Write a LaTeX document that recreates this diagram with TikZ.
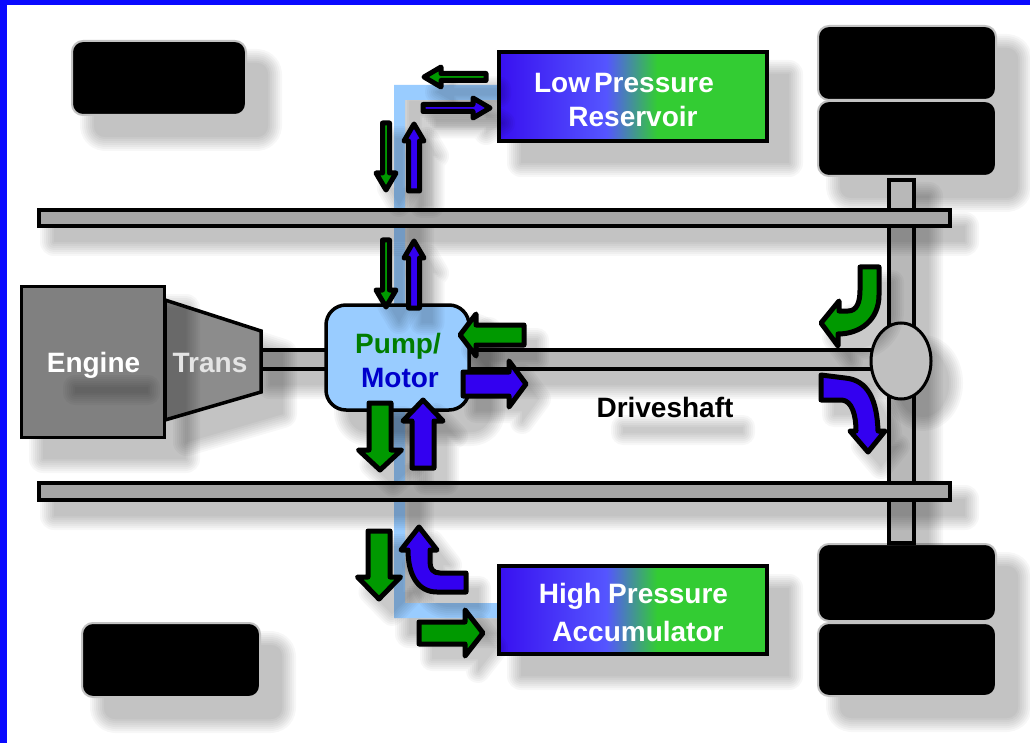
\documentclass[tikz,border=0pt]{standalone}
\usepackage{fontspec}
\setmainfont{Liberation Sans}
\definecolor{framebl}{RGB}{10,10,255}
\definecolor{pipec}{RGB}{153,204,255}
\definecolor{arrgreen}{RGB}{0,153,0}
\definecolor{arrblue}{RGB}{51,0,240}
\definecolor{boxbl}{RGB}{56,16,240}
\definecolor{boxbm}{RGB}{85,85,255}
\definecolor{boxgr}{RGB}{51,204,51}
\pgfdeclarehorizontalshading{boxshade}{100bp}{color(0bp)=(boxbl); color(25bp)=(boxbl); color(45bp)=(boxbm); color(54.5bp)=(boxgr); color(75bp)=(boxgr); color(100bp)=(boxgr)}
\tikzset{
  shadowlayer/.style={fill=black,draw=black,line join=round},
  wheelbox/.style={fill=black,draw={rgb,255:red,195;green,195;blue,195},line width=2pt,rounded corners=11pt},
  railbox/.style={fill={rgb,255:red,166;green,166;blue,166},draw=black,line width=3.5pt},
  shaftbox/.style={fill={rgb,255:red,184;green,184;blue,184},draw=black,line width=3.5pt},
  blockout/.style={draw=black,line width=5pt,line join=round},
  pressurebox/.style={draw=black,line width=4.5pt,shading=boxshade},
  lbl/.style={font=\fontsize{28}{30}\selectfont\bfseries,inner sep=0pt,anchor=base}
}
\newcommand{\softshadow}[1]{\foreach \w in {0.1,4,8,12,16,20,24,28}{\begin{scope}[transparency group,opacity=.032]\path[shift={(22,22)},shadowlayer,line width=\w pt] #1;\end{scope}}}
\newcommand{\midshadow}[1]{\foreach \w in {0.1,4,8,12,16,20,24,28}{\begin{scope}[transparency group,opacity=.032]\path[shift={(15,16)},shadowlayer,line width=\w pt] #1;\end{scope}}}
\newcommand{\thinshadow}[1]{\foreach \w in {0.1,4,8,12,16,20,24}{\begin{scope}[transparency group,opacity=.03]\path[shift={(13,15)},shadowlayer,line width=\w pt] #1;\end{scope}}}
\newcommand{\blockarrow}[8]{%
  \def\arrowoutline{(0,0)--(-#7,-#6/2)--(-#7,-#5/2)--(-#4,-#5/2)--(-#4,#5/2)--(-#7,#5/2)--(-#7,#6/2)--cycle}%
  \foreach \w in {0.1,4,8,12,16,20,24}{%
    \begin{scope}[transparency group,opacity=.03]
    \begin{scope}[shift={(13,15)}]
      \path[shadowlayer,line width=\w pt,shift={(#1,#2)},rotate=#3] \arrowoutline;
    \end{scope}\end{scope}}%
  \draw[blockout,fill=#8,shift={(#1,#2)},rotate=#3] \arrowoutline;
}
\begin{document}
\begin{tikzpicture}[x=1pt,y=-1pt]
\useasboundingbox (0,0) rectangle (1030,743);
\fill[white] (0,0) rectangle (1030,743);
\fill[framebl] (0,0) rectangle (7,743);
\fill[framebl] (0,0) rectangle (1030,5);
% pipe
\midshadow{(394,85)--(497,85)--(497,100)--(405,100)--(405,603)--(497,603)--(497,618)--(394,618)--cycle}
\fill[pipec] (394,85)--(497,85)--(497,100)--(405,100)--(405,603)--(497,603)--(497,618)--(394,618)--cycle;
% wheels
\softshadow{[rounded corners=11pt] (72,41) rectangle (246,115)}
\draw[wheelbox] (72,41) rectangle (246,115);
\softshadow{[rounded corners=11pt] (82,623) rectangle (260,697)}
\draw[wheelbox] (82,623) rectangle (260,697);
\softshadow{[rounded corners=11pt] (818,26) rectangle (996,176)}
\draw[wheelbox] (818,26) rectangle (996,100);
\draw[wheelbox] (818,101) rectangle (996,176);
\softshadow{[rounded corners=11pt] (818,544) rectangle (996,696)}
\draw[wheelbox] (818,544) rectangle (996,621);
\draw[wheelbox] (818,623) rectangle (996,696);
% axle
\midshadow{(889,180) rectangle (914,543)}
\draw[shaftbox] (889,180) rectangle (914,543);
% rails
\midshadow{(39,210) rectangle (950,226)}
\draw[railbox] (39,210) rectangle (950,226);
\midshadow{(39,483) rectangle (950,500)}
\draw[railbox] (39,483) rectangle (950,500);
% shafts
\midshadow{(255,350) rectangle (330,369)}
\draw[shaftbox] (255,350) rectangle (330,369);
\midshadow{(465,350) rectangle (875,369)}
\draw[shaftbox] (465,350) rectangle (875,369);
\softshadow{(901,361) ellipse [x radius=26,y radius=34]}
\draw[fill={rgb,255:red,192;green,192;blue,192},draw=black,line width=3pt] (901,361) ellipse [x radius=30,y radius=38];
% engine and trans
\softshadow{(165,300)--(261,331)--(261,392)--(165,420)--cycle}
\draw[line width=3.5pt,line join=miter,fill={rgb,255:red,140;green,140;blue,140}] (165,300)--(261,331)--(261,392)--(165,420)--cycle;
\softshadow{(21,286) rectangle (164,437)}
\draw[line width=3pt,fill={rgb,255:red,128;green,128;blue,128}] (21,286) rectangle (164,437);
\thinshadow{(62,372) rectangle (135,378)}
% pump
\softshadow{[rounded corners=20pt] (326,305) rectangle (469,410)}
\draw[line width=3.5pt,rounded corners=20pt,fill=pipec] (326,305) rectangle (469,410);
% pressure boxes
\softshadow{(499,52) rectangle (767,141)}
\draw[pressurebox] (499,52) rectangle (767,141);
\softshadow{(499,566) rectangle (767,654)}
\draw[pressurebox] (499,566) rectangle (767,654);
% thin arrows
\blockarrow{424}{77}{180}{62}{7}{20}{17}{arrgreen}
\blockarrow{490}{108}{0}{67}{7}{20}{17}{arrblue}
\blockarrow{386}{190}{270}{67}{7}{20}{17}{arrgreen}
\blockarrow{414}{124}{90}{67}{11}{20}{17}{arrblue}
\blockarrow{386}{307}{270}{67}{7}{20}{17}{arrgreen}
\blockarrow{414}{241}{90}{67}{11}{20}{17}{arrblue}
% thick arrows
\blockarrow{460}{335}{180}{64}{20}{42}{16}{arrgreen}
\blockarrow{526}{384}{0}{63}{24}{46}{17}{arrblue}
\blockarrow{380}{470}{270}{67}{22}{43}{20}{arrgreen}
\blockarrow{423}{400}{90}{68}{22}{40}{21}{arrblue}
\blockarrow{379}{599}{270}{68}{22}{43}{22}{arrgreen}
\blockarrow{483}{633}{0}{64}{22}{46}{18}{arrgreen}
% curved arrows
\thinshadow{(419,527)--(437,550)--(430,550)--(430,562) .. controls (430,569) and (433,573) .. (440,573)--(466,573)--(466,592)--(437,592) .. controls (418,592) and (408,575) .. (408,550)--(401,550)--cycle}
\draw[blockout,fill=arrblue] (419,527)--(437,550)--(430,550)--(430,562) .. controls (430,569) and (433,573) .. (440,573)--(466,573)--(466,592)--(437,592) .. controls (418,592) and (408,575) .. (408,550)--(401,550)--cycle;
\thinshadow{(860,267)--(879,267)--(879,295) .. controls (879,320) and (860,334) .. (838,334)--(838,346)--(821,323)--(839,301)--(839,311)--(848,311) .. controls (857,311) and (860,302) .. (860,290)--cycle}
\draw[blockout,fill=arrgreen] (860,267)--(879,267)--(879,295) .. controls (879,320) and (860,334) .. (838,334)--(838,346)--(821,323)--(839,301)--(839,311)--(848,311) .. controls (857,311) and (860,302) .. (860,290)--cycle;
\thinshadow{(821,375)--(845,378) .. controls (868,380) and (877,400) .. (878,431)--(885,431)--(868,452)--(850,431)--(856,431) .. controls (856,415) and (852,401) .. (842,400)--(821,400)--cycle}
\draw[blockout,fill=arrblue] (821,375)--(845,378) .. controls (868,380) and (877,400) .. (878,431)--(885,431)--(868,452)--(850,431)--(856,431) .. controls (856,415) and (852,401) .. (842,400)--(821,400)--cycle;
% labels
\thinshadow{(610,412) rectangle (730,418)}
\node[lbl,text=white] (engine) at (93.5,372) {Engine};
\node[lbl,text={rgb,255:red,228;green,228;blue,228}] (trans) at (210,372) {Trans};
\node[lbl,text={rgb,255:red,0;green,125;blue,0}] (pump) at (398,353) {Pump/};
\node[lbl,text={rgb,255:red,0;green,0;blue,204}] (motor) at (400,387) {Motor};
\node[lbl,text=black] (driveshaft) at (665,417) {Driveshaft};
\node[lbl,text=white] (lowp) at (624,93) {\spaceskip=4pt Low Pressure};
\node[lbl,text=white] (reservoir) at (633,127) {Reservoir};
\node[lbl,text=white] (highp) at (633.5,603) {\spaceskip=7pt High Pressure};
\node[lbl,text=white] (accum) at (638,641) {Accumulator};
\end{tikzpicture}
\end{document}
